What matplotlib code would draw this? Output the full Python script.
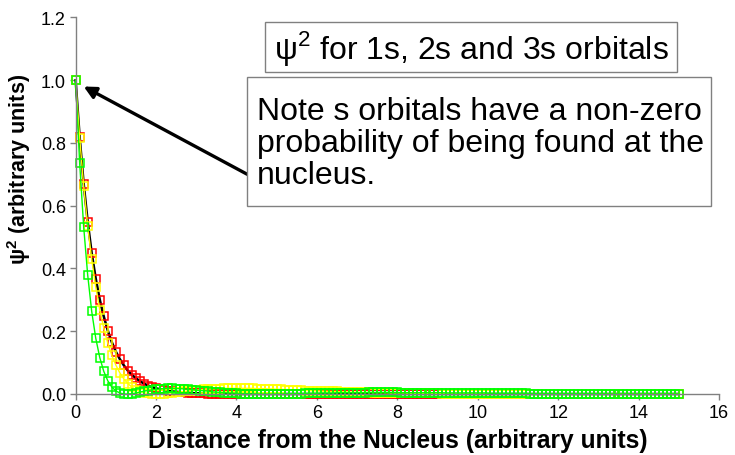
import numpy as np
import matplotlib
matplotlib.use("Agg")
import matplotlib.pyplot as plt
from matplotlib.patches import Rectangle

plt.rcParams['font.family'] = ['Liberation Sans', 'DejaVu Sans']
plt.rcParams['mathtext.fontset'] = 'custom'
plt.rcParams['mathtext.rm'] = 'Liberation Sans'
plt.rcParams['mathtext.bf'] = 'Liberation Sans:bold'

# distance from the nucleus, one point every 0.1 units
distance = np.round(np.arange(0, 151) * 0.1, 1)

# psi squared, 1s orbital
psi2_1s = [1.000, 0.819, 0.670, 0.549, 0.449, 0.368, 0.301, 0.247, 0.202, 0.165,
           0.135, 0.111, 0.091, 0.074, 0.061, 0.050, 0.041, 0.033, 0.027, 0.022,
           0.018, 0.015, 0.012, 0.010, 0.008, 0.007, 0.006, 0.005, 0.004, 0.003,
           0.002, 0.002, 0.002, 0.001, 0.001, 0.001, 0.001, 0.001] + [0.000] * 113

# psi squared, 2s orbital
psi2_2s = [1.000, 0.817, 0.663, 0.535, 0.429, 0.341, 0.269, 0.210, 0.162, 0.123,
           0.092, 0.067, 0.048, 0.033, 0.022, 0.014, 0.008, 0.004, 0.002, 0.000,
           0.000, 0.000, 0.001, 0.002, 0.004, 0.005, 0.007, 0.008, 0.010, 0.011,
           0.012, 0.014, 0.015, 0.016, 0.016, 0.017, 0.017, 0.018, 0.018, 0.018,
           0.018, 0.018, 0.018, 0.018, 0.018, 0.017, 0.017, 0.017, 0.016, 0.016,
           0.015, 0.015, 0.014, 0.014, 0.013, 0.013, 0.012, 0.011, 0.011, 0.010,
           0.010, 0.009, 0.009, 0.008, 0.008, 0.008, 0.007, 0.007, 0.006, 0.006,
           0.006, 0.005, 0.005, 0.005, 0.004, 0.004, 0.004, 0.004, 0.003, 0.003,
           0.003, 0.003, 0.003, 0.002, 0.002, 0.002, 0.002, 0.002, 0.002, 0.002,
           0.002] + [0.001] * 14 + [0.000] * 46

# psi squared, 3s orbital
psi2_3s = [1.000, 0.736, 0.533, 0.379, 0.263, 0.178, 0.116, 0.072, 0.042, 0.022,
           0.010, 0.003, 0.000, 0.000, 0.001, 0.003, 0.006, 0.009, 0.011, 0.013,
           0.015, 0.016, 0.017, 0.018, 0.018, 0.017, 0.017, 0.016, 0.015, 0.014,
           0.012, 0.011, 0.010, 0.009, 0.007, 0.006, 0.005, 0.004, 0.003, 0.003,
           0.002, 0.001, 0.001, 0.001, 0.000, 0.000, 0.000, 0.000, 0.000, 0.000,
           0.000, 0.000, 0.001, 0.001, 0.001, 0.001, 0.001, 0.002, 0.002, 0.002,
           0.002, 0.003, 0.003, 0.003, 0.003, 0.004, 0.004, 0.004, 0.004, 0.004,
           0.004, 0.004, 0.004, 0.005, 0.005, 0.005, 0.005, 0.005, 0.005, 0.005,
           0.005, 0.004, 0.004, 0.004, 0.004, 0.004, 0.004, 0.004, 0.004, 0.004,
           0.004, 0.004, 0.003, 0.003, 0.003, 0.003, 0.003, 0.003, 0.003, 0.003,
           0.003, 0.003, 0.003, 0.002, 0.002, 0.002, 0.002, 0.002, 0.002, 0.002,
           0.002, 0.002, 0.002, 0.001, 0.001, 0.001, 0.001, 0.001, 0.001, 0.001,
           0.001, 0.001, 0.001, 0.001, 0.001, 0.001, 0.001, 0.001, 0.001, 0.001,
           0.001, 0.001] + [0.000] * 19

x_ticks = [0, 2, 4, 6, 8, 10, 12, 14, 16]
y_ticks = [0.0, 0.2, 0.4, 0.6, 0.8, 1.0, 1.2]

fig = plt.figure(figsize=(7.35, 4.56), dpi=100)
ax = fig.add_axes([0.1029, 0.1338, 0.8754, 0.8257])

marker_style = dict(marker='s', markersize=6, markerfacecolor='none',
                    markeredgewidth=1.1, clip_on=False)
ax.plot(distance, psi2_1s, color='black', linewidth=1.8, markeredgecolor='#ff0000', **marker_style)
ax.plot(distance, psi2_2s, color='#ffff00', linewidth=1.0, markeredgecolor='#ffff00', **marker_style)
ax.plot(distance, psi2_3s, color='#00ff00', linewidth=1.0, markeredgecolor='#00ff00', **marker_style)

ax.set_xlim(0, 16)
ax.set_ylim(0, 1.2)
ax.set_xticks(x_ticks)
ax.set_yticks(y_ticks)
ax.set_yticklabels(['%.1f' % v for v in y_ticks])
ax.tick_params(axis='both', direction='out', length=4, width=1, color='#808080',
               labelsize=13, pad=3)

for side in ['top', 'right']:
    ax.spines[side].set_visible(False)
for side in ['left', 'bottom']:
    ax.spines[side].set_color('#808080')
    ax.spines[side].set_linewidth(1.0)

ax.set_xlabel('Distance from the Nucleus (arbitrary units)', fontsize=17.7, fontweight='bold')
ax.set_ylabel(r'ψ$^\mathbf{2}$ (arbitrary units)', fontsize=15.5, fontweight='bold')
ax.xaxis.set_label_coords(0.5, -0.09)
ax.yaxis.set_label_coords(-0.066, 0.6)

# title box
fig.patches.append(Rectangle((265 / 735, 1 - 73 / 456), 412 / 735, 50 / 456,
                             transform=fig.transFigure, facecolor='white',
                             edgecolor='#808080', linewidth=1.0))
fig.text(471 / 735, 1 - 48 / 456, r'ψ$^2$ for 1s, 2s and 3s orbitals', fontsize=23,
         ha='center', va='center')

# note box with arrow to the nucleus
fig.patches.append(Rectangle((247 / 735, 1 - 207 / 456), 464 / 735, 129 / 456,
                             transform=fig.transFigure, facecolor='white',
                             edgecolor='#808080', linewidth=1.0))
fig.text(257 / 735, 1 - 144 / 456,
         'Note s orbitals have a non-zero\nprobability of being found at the\nnucleus.',
         fontsize=23, ha='left', va='center', linespacing=1.1)

ax.annotate('', xy=(0.2, 0.98), xytext=(4.27, 0.70),
            arrowprops=dict(arrowstyle='-|>', color='black', linewidth=2.4,
                            mutation_scale=18, shrinkA=0, shrinkB=0))

fig.savefig('out.png', dpi=100)
